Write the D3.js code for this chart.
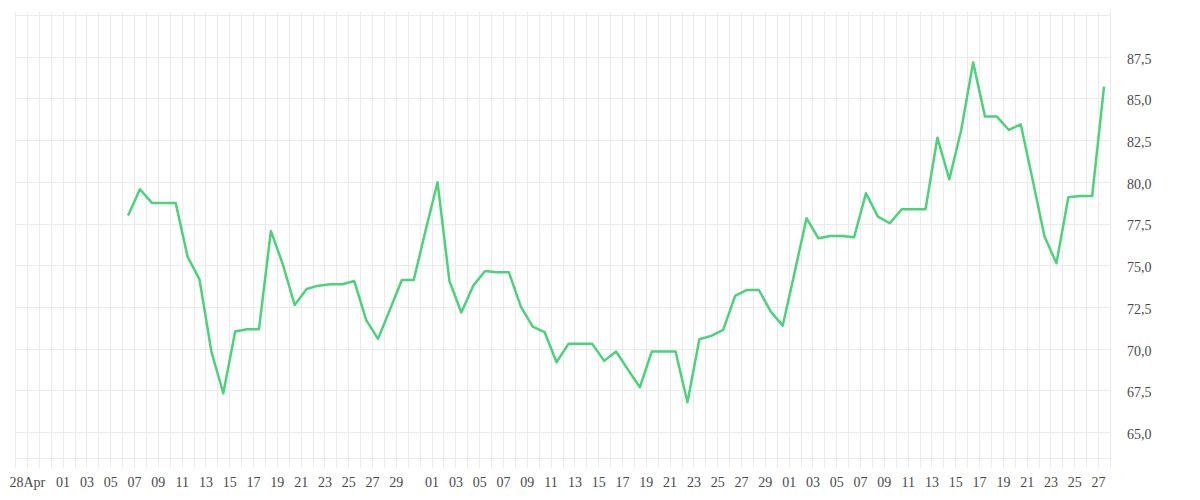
<!DOCTYPE html>
<html lang="en">
<head>
<meta charset="UTF-8">
<script src="https://d3js.org/d3.v7.min.js"></script>
<style>
  body { margin: 0; background: #fff; }
  #plot text { font-family: "Liberation Serif", serif; font-size: 14px; fill: #4a4a4a; }
</style>
</head>
<body>
<div id="plot"></div>
<script>
// daily values, one point per day from 6 May to 27 Jul
const firstDay = "2024-05-06";
const lastDay = "2024-07-27";
const values = [
  77.98, 79.56, 78.74, 78.74, 78.74, 75.52, 74.16, 69.83, 67.33, 71.03,
  71.17, 71.17, 77.06, 75.06, 72.62, 73.58, 73.78, 73.86, 73.86, 74.06,
  71.73, 70.59, 72.34, 74.12, 74.12, 77.09,
  79.98, 74.06, 72.17, 73.78, 74.66, 74.58, 74.58, 72.52, 71.32, 70.99,
  69.19, 70.29, 70.29, 70.29, 69.27, 69.83, 68.75, 67.69, 69.83, 69.83,
  69.83, 66.79, 70.57, 70.77, 71.13, 73.16, 73.52, 73.52, 72.22, 71.38,
  74.56, 77.82, 76.62, 76.76, 76.76, 76.68, 79.32, 77.92, 77.52, 78.36,
  78.36, 78.36, 82.65, 80.15, 83.11, 87.16, 83.91, 83.91, 83.11, 83.45,
  80.13, 76.72, 75.12, 79.08, 79.15, 79.15, 85.71
];
const yTicks = [65, 67.5, 70, 72.5, 75, 77.5, 80, 82.5, 85, 87.5];
const yGrid = [65, 67.5, 70, 72.5, 75, 77.5, 80, 82.5, 85, 87.5, 90];
const xDomain = ["2024-04-27", "2024-07-28"];
const firstTick = "2024-04-28";
const firstTickLabel = "28Apr";

const width = 1200, height = 500;
const parse = d3.timeParse("%Y-%m-%d");

const svg = d3.select("#plot").append("svg")
    .attr("width", width)
    .attr("height", height);

const x = d3.scaleTime()
    .domain(xDomain.map(parse))
    .range([15, 1110]);
const y = d3.scaleLinear()
    .domain([63.45, 90])
    .range([458, 15]);

const days = d3.timeDay.range(parse(firstDay), d3.timeDay.offset(parse(lastDay), 1));
const data = days.map((d, i) => ({date: d, value: values[i]}));

// grid
const grid = svg.append("g").attr("stroke", "#ebebeb").attr("stroke-width", 1);
grid.selectAll("line.v")
  .data(d3.timeDay.range(x.domain()[0], d3.timeDay.offset(x.domain()[1], 1)))
  .join("line")
    .attr("class", "v")
    .attr("x1", d => Math.round(x(d)) + 0.5)
    .attr("x2", d => Math.round(x(d)) + 0.5)
    .attr("y1", 12)
    .attr("y2", 468);
grid.selectAll("line.h")
  .data(yGrid.concat([y.domain()[0]]))
  .join("line")
    .attr("class", "h")
    .attr("x1", x.range()[0])
    .attr("x2", x.range()[1])
    .attr("y1", d => Math.round(y(d)) + 0.5)
    .attr("y2", d => Math.round(y(d)) + 0.5);

// x axis
const xTicks = [parse(firstTick)].concat(
  d3.timeDay.range(parse("2024-05-01"), x.domain()[1])
    .filter(d => d.getDate() % 2 === 1 && d.getDate() !== 31));
const fmtDay = d3.timeFormat("%d");
svg.append("g")
  .attr("transform", "translate(0,474)")
  .call(d3.axisBottom(x).tickValues(xTicks).tickSize(0)
    .tickFormat((d, i) => i === 0 ? firstTickLabel : fmtDay(d)))
  .call(g => g.select(".domain").remove())
  .selectAll("text").attr("fill", "#4a4a4a");

// y axis, comma decimals
const locale = d3.formatLocale({decimal: ",", thousands: ".", grouping: [3], currency: ["", ""]});
const fmtY = locale.format(".1f");
svg.append("g")
  .attr("transform", "translate(1127,0)")
  .call(d3.axisRight(y).tickValues(yTicks).tickSize(0).tickPadding(0).tickFormat(fmtY))
  .call(g => g.select(".domain").remove())
  .selectAll("text").attr("fill", "#4a4a4a").attr("dy", "0.45em");

// line, points sit at midday
const line = d3.line()
  .x(d => x(d3.timeHour.offset(d.date, 12)))
  .y(d => y(d.value));
svg.append("path")
  .datum(data)
  .attr("fill", "none")
  .attr("stroke", "#4cd27b")
  .attr("stroke-width", 2.5)
  .attr("stroke-linejoin", "round")
  .attr("d", line);
</script>
</body>
</html>
